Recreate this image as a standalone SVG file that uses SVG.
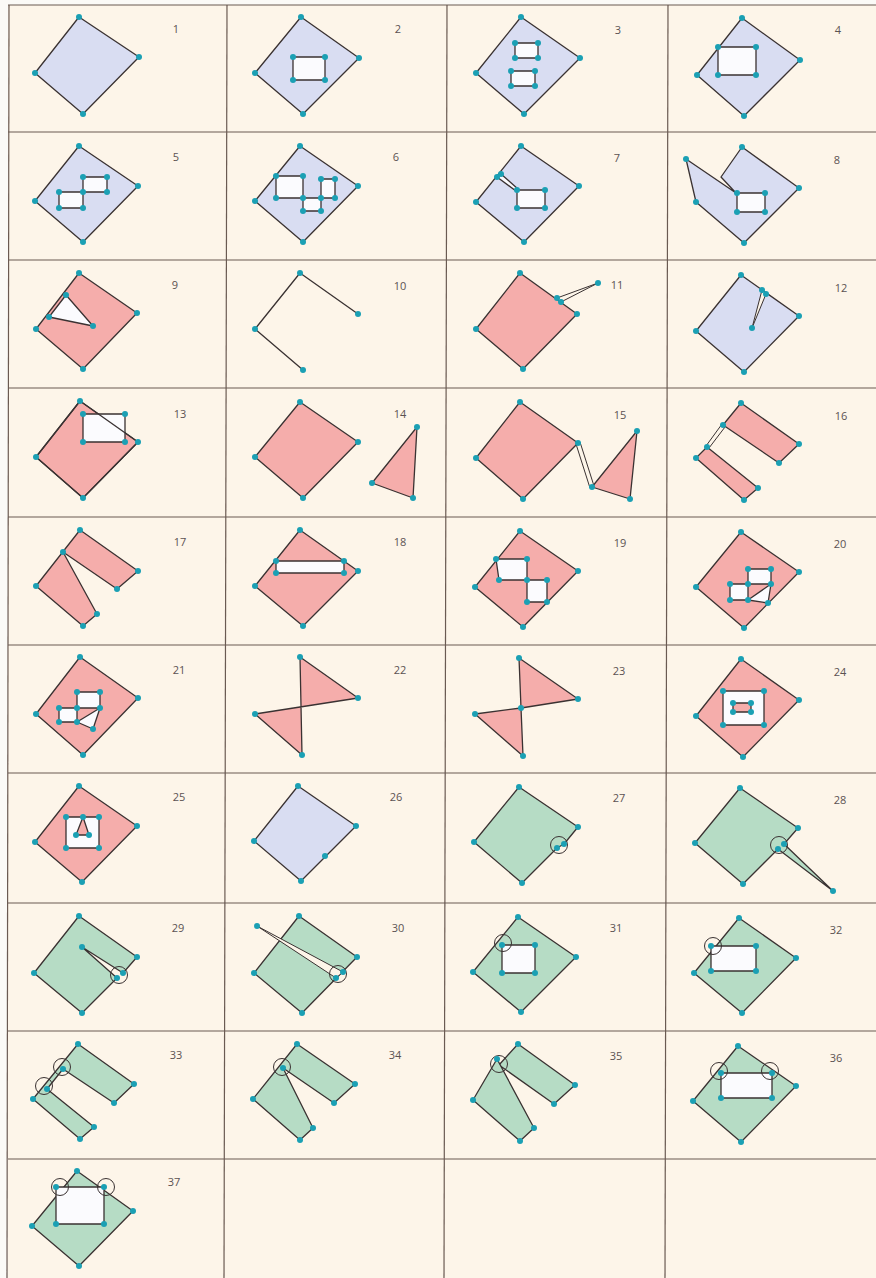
<svg xmlns="http://www.w3.org/2000/svg" width="876" height="1278" viewBox="0 0 876 1278">
<style>
.bg{fill:#fdf5e9}
.gr{stroke:#6a5a52;stroke-width:1.2;fill:none}
.b,.p,.g,.h,.s,.pk{stroke:#3a3232;stroke-width:1.3;stroke-linejoin:round}
.b{fill:#d9ddf2}
.p{fill:#f5adab}
.g{fill:#b6dcc5}
.h{fill:#fbfbfe}
.s{fill:#fdf5e9;stroke-width:1}
.ln{fill:none;stroke:#3a3232;stroke-width:1.3;stroke-linejoin:round}
.d{fill:#1ba0b4}
.c{fill:none;stroke:#3a3232;stroke-width:1}
.lb{font-family:"Open Sans","Liberation Sans",sans-serif;font-size:11px;fill:#5b5252;text-anchor:middle}
</style>
<rect x="0" y="0" width="876" height="1278" fill="#fbfaf7"/>
<rect class="bg" x="8" y="5" width="868" height="1273"/>
<g id="grid">
<line class="gr" x1="8" y1="5" x2="876" y2="5"/>
<line class="gr" x1="8" y1="132" x2="876" y2="132"/>
<line class="gr" x1="8" y1="260" x2="876" y2="260"/>
<line class="gr" x1="8" y1="388" x2="876" y2="388"/>
<line class="gr" x1="8" y1="517" x2="876" y2="517"/>
<line class="gr" x1="8" y1="645" x2="876" y2="645"/>
<line class="gr" x1="8" y1="773" x2="876" y2="773"/>
<line class="gr" x1="8" y1="903" x2="876" y2="903"/>
<line class="gr" x1="8" y1="1031" x2="876" y2="1031"/>
<line class="gr" x1="8" y1="1159" x2="876" y2="1159"/>
<line class="gr" x1="9" y1="5" x2="7" y2="1278"/>
<line class="gr" x1="227" y1="5" x2="224" y2="1278"/>
<line class="gr" x1="447" y1="5" x2="444" y2="1278"/>
<line class="gr" x1="668" y1="5" x2="665" y2="1278"/>
</g>
<g id="labels">
<text class="lb" x="176" y="33">1</text><text class="lb" x="398" y="33">2</text><text class="lb" x="618" y="34">3</text><text class="lb" x="838" y="34">4</text>
<text class="lb" x="176" y="161">5</text><text class="lb" x="396" y="161">6</text><text class="lb" x="617" y="162">7</text><text class="lb" x="837" y="164">8</text>
<text class="lb" x="175" y="289">9</text><text class="lb" x="400" y="290">10</text><text class="lb" x="617" y="289">11</text><text class="lb" x="841" y="292">12</text>
<text class="lb" x="180" y="418">13</text><text class="lb" x="400" y="418">14</text><text class="lb" x="620" y="419">15</text><text class="lb" x="841" y="420">16</text>
<text class="lb" x="180" y="546">17</text><text class="lb" x="400" y="546">18</text><text class="lb" x="620" y="547">19</text><text class="lb" x="840" y="548">20</text>
<text class="lb" x="179" y="674">21</text><text class="lb" x="400" y="674">22</text><text class="lb" x="619" y="675">23</text><text class="lb" x="840" y="676">24</text>
<text class="lb" x="179" y="801">25</text><text class="lb" x="396" y="801">26</text><text class="lb" x="619" y="802">27</text><text class="lb" x="840" y="804">28</text>
<text class="lb" x="178" y="932">29</text><text class="lb" x="398" y="932">30</text><text class="lb" x="616" y="932">31</text><text class="lb" x="836" y="934">32</text>
<text class="lb" x="176" y="1059">33</text><text class="lb" x="395" y="1059">34</text><text class="lb" x="616" y="1060">35</text><text class="lb" x="836" y="1062">36</text>
<text class="lb" x="174" y="1186">37</text>
</g>
<g id="connectors"></g>
<g id="cell1">
<polygon class="b" points="79,17 139,57 83,114 35,73"/>
<circle class="d" cx="79" cy="17" r="3"/><circle class="d" cx="139" cy="57" r="3"/><circle class="d" cx="83" cy="114" r="3"/><circle class="d" cx="35" cy="73" r="3"/>
</g>
<g id="cell2">
<polygon class="b" points="301,17 359,58 303,114 255,73"/>
<polygon class="h" points="293,57 325,57 325,80 293,80"/>
<circle class="d" cx="301" cy="17" r="3"/><circle class="d" cx="359" cy="58" r="3"/><circle class="d" cx="303" cy="114" r="3"/><circle class="d" cx="255" cy="73" r="3"/>
<circle class="d" cx="293" cy="57" r="3"/><circle class="d" cx="325" cy="57" r="3"/><circle class="d" cx="325" cy="80" r="3"/><circle class="d" cx="293" cy="80" r="3"/>
</g>
<g id="cell3">
<polygon class="b" points="521,17 580,58 524,114 476,73"/>
<polygon class="h" points="515,43 538,43 538,58 515,58"/>
<polygon class="h" points="511,71 535,71 535,86 511,86"/>
<circle class="d" cx="521" cy="17" r="3"/><circle class="d" cx="580" cy="58" r="3"/><circle class="d" cx="524" cy="114" r="3"/><circle class="d" cx="476" cy="73" r="3"/>
<circle class="d" cx="515" cy="43" r="3"/><circle class="d" cx="538" cy="43" r="3"/><circle class="d" cx="538" cy="58" r="3"/><circle class="d" cx="515" cy="58" r="3"/>
<circle class="d" cx="511" cy="71" r="3"/><circle class="d" cx="535" cy="71" r="3"/><circle class="d" cx="535" cy="86" r="3"/><circle class="d" cx="511" cy="86" r="3"/>
</g>
<g id="cell4">
<polygon class="b" points="742,18 800,60 744,116 697,75"/>
<polygon class="h" points="718,47 756,47 756,75 718,75"/>
<circle class="d" cx="742" cy="18" r="3"/><circle class="d" cx="800" cy="60" r="3"/><circle class="d" cx="744" cy="116" r="3"/><circle class="d" cx="697" cy="75" r="3"/>
<circle class="d" cx="718" cy="47" r="3"/><circle class="d" cx="756" cy="47" r="3"/><circle class="d" cx="756" cy="75" r="3"/><circle class="d" cx="718" cy="75" r="3"/>
</g>
<g id="cell5">
<polygon class="b" points="79,146 138,186 83,242 35,201"/>
<polygon class="h" points="83,177 107,177 107,192 83,192"/>
<polygon class="h" points="59,192 83,192 83,208 59,208"/>
<circle class="d" cx="79" cy="146" r="3"/><circle class="d" cx="138" cy="186" r="3"/><circle class="d" cx="83" cy="242" r="3"/><circle class="d" cx="35" cy="201" r="3"/>
<circle class="d" cx="83" cy="177" r="3"/><circle class="d" cx="107" cy="177" r="3"/><circle class="d" cx="107" cy="192" r="3"/><circle class="d" cx="83" cy="192" r="3"/>
<circle class="d" cx="59" cy="192" r="3"/><circle class="d" cx="59" cy="208" r="3"/><circle class="d" cx="83" cy="208" r="3"/>
</g>
<g id="cell6">
<polygon class="b" points="300,146 358,186 303,242 255,201"/>
<polygon class="h" points="276,176 303,176 303,198 276,198"/>
<polygon class="h" points="321,179 335,179 335,198 321,198"/>
<polygon class="h" points="303,198 321,198 321,211 303,211"/>
<circle class="d" cx="300" cy="146" r="3"/><circle class="d" cx="358" cy="186" r="3"/><circle class="d" cx="303" cy="242" r="3"/><circle class="d" cx="255" cy="201" r="3"/>
<circle class="d" cx="276" cy="176" r="3"/><circle class="d" cx="303" cy="176" r="3"/><circle class="d" cx="276" cy="198" r="3"/><circle class="d" cx="303" cy="198" r="3"/>
<circle class="d" cx="321" cy="179" r="3"/><circle class="d" cx="335" cy="179" r="3"/><circle class="d" cx="321" cy="198" r="3"/><circle class="d" cx="335" cy="198" r="3"/>
<circle class="d" cx="303" cy="211" r="3"/><circle class="d" cx="321" cy="211" r="3"/>
</g>
<g id="cell7">
<polygon class="b" points="521,146 579,186 524,242 476,202"/>
<polygon class="h" points="517,190 545,190 545,208 517,208"/>
<polygon class="h" points="497,177 501,174 518,189 516,191"/>
<circle class="d" cx="521" cy="146" r="3"/><circle class="d" cx="579" cy="186" r="3"/><circle class="d" cx="524" cy="242" r="3"/><circle class="d" cx="476" cy="202" r="3"/>
<circle class="d" cx="517" cy="190" r="3"/><circle class="d" cx="545" cy="190" r="3"/><circle class="d" cx="545" cy="208" r="3"/><circle class="d" cx="517" cy="208" r="3"/>
<circle class="d" cx="497" cy="177" r="3"/><circle class="d" cx="501" cy="174" r="3"/>
</g>
<g id="cell8">
<polygon class="b" points="742,147 799,188 744,243 696,202 686,159 736,193 721,177"/>
<polygon class="h" points="737,193 765,193 765,212 737,212"/>
<circle class="d" cx="742" cy="147" r="3"/><circle class="d" cx="799" cy="188" r="3"/><circle class="d" cx="744" cy="243" r="3"/><circle class="d" cx="696" cy="202" r="3"/><circle class="d" cx="686" cy="159" r="3"/>
<circle class="d" cx="737" cy="193" r="3"/><circle class="d" cx="765" cy="193" r="3"/><circle class="d" cx="765" cy="212" r="3"/><circle class="d" cx="737" cy="212" r="3"/>
</g>
<g id="cell9">
<polygon class="p" points="79,273 137,313 83,369 36,329"/>
<polygon class="h" points="66,295 49,317 93,326"/>
<circle class="d" cx="79" cy="273" r="3"/><circle class="d" cx="137" cy="313" r="3"/><circle class="d" cx="83" cy="369" r="3"/><circle class="d" cx="36" cy="329" r="3"/>
<circle class="d" cx="66" cy="295" r="3"/><circle class="d" cx="49" cy="317" r="3"/><circle class="d" cx="93" cy="326" r="3"/>
</g>
<g id="cell10">
<polyline class="ln" points="358,314 300,273 255,329 303,370"/>
<circle class="d" cx="358" cy="314" r="3"/><circle class="d" cx="300" cy="273" r="3"/><circle class="d" cx="255" cy="329" r="3"/><circle class="d" cx="303" cy="370" r="3"/>
</g>
<g id="cell11">
<polygon class="p" points="520,273 577,314 523,369 476,329"/>
<polygon class="s" points="557,298 598,283 561,302"/>
<circle class="d" cx="520" cy="273" r="3"/><circle class="d" cx="577" cy="314" r="3"/><circle class="d" cx="523" cy="369" r="3"/><circle class="d" cx="476" cy="329" r="3"/>
<circle class="d" cx="557" cy="298" r="3"/><circle class="d" cx="561" cy="302" r="3"/><circle class="d" cx="598" cy="283" r="3"/>
</g>
<g id="cell12">
<polygon class="b" points="741,275 799,316 744,372 696,331"/>
<polygon class="s" points="762,290 752,328 766,294"/>
<circle class="d" cx="741" cy="275" r="3"/><circle class="d" cx="799" cy="316" r="3"/><circle class="d" cx="744" cy="372" r="3"/><circle class="d" cx="696" cy="331" r="3"/>
<circle class="d" cx="762" cy="290" r="3"/><circle class="d" cx="766" cy="294" r="3"/><circle class="d" cx="752" cy="328" r="3"/>
</g>
<g id="cell13">
<polygon class="p" points="80,401 138,442 83,498 36,457"/>
<polygon class="h" points="83,414 125,414 125,442 83,442"/>
<polygon class="ln" points="80,401 138,442 83,498 36,457"/>
<circle class="d" cx="80" cy="401" r="3"/><circle class="d" cx="138" cy="442" r="3"/><circle class="d" cx="83" cy="498" r="3"/><circle class="d" cx="36" cy="457" r="3"/>
<circle class="d" cx="83" cy="414" r="3"/><circle class="d" cx="125" cy="414" r="3"/><circle class="d" cx="125" cy="442" r="3"/><circle class="d" cx="83" cy="442" r="3"/>
</g>
<g id="cell14">
<polygon class="p" points="300,402 358,442 303,498 255,457"/>
<polygon class="p" points="417,427 372,483 413,498"/>
<circle class="d" cx="300" cy="402" r="3"/><circle class="d" cx="358" cy="442" r="3"/><circle class="d" cx="303" cy="498" r="3"/><circle class="d" cx="255" cy="457" r="3"/>
<circle class="d" cx="417" cy="427" r="3"/><circle class="d" cx="372" cy="483" r="3"/><circle class="d" cx="413" cy="498" r="3"/>
</g>
<g id="cell15">
<polygon class="p" points="520,402 578,443 523,499 476,458"/>
<polygon class="p" points="637,431 592,487 630,499"/>
<polygon class="s" points="576,444 580,442 594,486 590,488"/>
<circle class="d" cx="520" cy="402" r="3"/><circle class="d" cx="578" cy="443" r="3"/><circle class="d" cx="523" cy="499" r="3"/><circle class="d" cx="476" cy="458" r="3"/>
<circle class="d" cx="637" cy="431" r="3"/><circle class="d" cx="592" cy="487" r="3"/><circle class="d" cx="630" cy="499" r="3"/>
</g>
<g id="cell16">
<polygon class="p" points="741,403 799,444 779,463 723,425"/>
<polygon class="p" points="707,447 758,488 744,500 696,458"/>
<polygon class="s" points="722,424 725,427 709,448 706,446"/>
<circle class="d" cx="741" cy="403" r="3"/><circle class="d" cx="799" cy="444" r="3"/><circle class="d" cx="779" cy="463" r="3"/><circle class="d" cx="723" cy="425" r="3"/>
<circle class="d" cx="707" cy="447" r="3"/><circle class="d" cx="758" cy="488" r="3"/><circle class="d" cx="744" cy="500" r="3"/><circle class="d" cx="696" cy="458" r="3"/>
</g>
<g id="cell17">
<polygon class="p" points="80,530 138,571 117,589 63,552 97,614 83,626 36,586"/>
<circle class="d" cx="80" cy="530" r="3"/><circle class="d" cx="138" cy="571" r="3"/><circle class="d" cx="117" cy="589" r="3"/><circle class="d" cx="63" cy="552" r="3"/>
<circle class="d" cx="97" cy="614" r="3"/><circle class="d" cx="83" cy="626" r="3"/><circle class="d" cx="36" cy="586" r="3"/>
</g>
<g id="cell18">
<polygon class="p" points="300,530 358,571 303,626 255,586"/>
<polygon class="h" points="276,561 344,561 344,573 276,573"/>
<circle class="d" cx="300" cy="530" r="3"/><circle class="d" cx="358" cy="571" r="3"/><circle class="d" cx="303" cy="626" r="3"/><circle class="d" cx="255" cy="586" r="3"/>
<circle class="d" cx="276" cy="561" r="3"/><circle class="d" cx="344" cy="561" r="3"/><circle class="d" cx="344" cy="573" r="3"/><circle class="d" cx="276" cy="573" r="3"/>
</g>
<g id="cell19">
<polygon class="p" points="520,531 578,571 523,627 475,587"/>
<polygon class="h" points="496,559 527,559 527,580 499,580"/>
<polygon class="h" points="527,580 547,580 547,602 527,602"/>
<circle class="d" cx="520" cy="531" r="3"/><circle class="d" cx="578" cy="571" r="3"/><circle class="d" cx="523" cy="627" r="3"/><circle class="d" cx="475" cy="587" r="3"/>
<circle class="d" cx="496" cy="559" r="3"/><circle class="d" cx="527" cy="559" r="3"/><circle class="d" cx="499" cy="580" r="3"/><circle class="d" cx="527" cy="580" r="3"/>
<circle class="d" cx="547" cy="580" r="3"/><circle class="d" cx="527" cy="602" r="3"/><circle class="d" cx="547" cy="602" r="3"/>
</g>
<g id="cell20">
<polygon class="p" points="741,532 799,572 744,628 696,587"/>
<polygon class="h" points="748,569 771,569 771,584 748,584"/>
<polygon class="h" points="730,584 748,584 748,600 730,600"/>
<polygon class="h" points="748,600 771,584 768,603"/>
<circle class="d" cx="741" cy="532" r="3"/><circle class="d" cx="799" cy="572" r="3"/><circle class="d" cx="744" cy="628" r="3"/><circle class="d" cx="696" cy="587" r="3"/>
<circle class="d" cx="748" cy="569" r="3"/><circle class="d" cx="771" cy="569" r="3"/><circle class="d" cx="730" cy="584" r="3"/><circle class="d" cx="748" cy="584" r="3"/>
<circle class="d" cx="771" cy="584" r="3"/><circle class="d" cx="730" cy="600" r="3"/><circle class="d" cx="748" cy="600" r="3"/><circle class="d" cx="768" cy="603" r="3"/>
</g>
<g id="cell21">
<polygon class="p" points="80,657 138,698 83,755 36,714"/>
<polygon class="h" points="77,692 100,692 100,708 77,708"/>
<polygon class="h" points="59,708 77,708 77,722 59,722"/>
<polygon class="h" points="77,722 100,708 93,729"/>
<circle class="d" cx="80" cy="657" r="3"/><circle class="d" cx="138" cy="698" r="3"/><circle class="d" cx="83" cy="755" r="3"/><circle class="d" cx="36" cy="714" r="3"/>
<circle class="d" cx="77" cy="692" r="3"/><circle class="d" cx="100" cy="692" r="3"/><circle class="d" cx="59" cy="708" r="3"/><circle class="d" cx="77" cy="708" r="3"/>
<circle class="d" cx="100" cy="708" r="3"/><circle class="d" cx="59" cy="722" r="3"/><circle class="d" cx="77" cy="722" r="3"/><circle class="d" cx="93" cy="729" r="3"/>
</g>
<g id="cell22">
<polygon class="p" points="300,657 358,698 255,714 302,755"/>
<circle class="d" cx="300" cy="657" r="3"/><circle class="d" cx="358" cy="698" r="3"/><circle class="d" cx="255" cy="714" r="3"/><circle class="d" cx="302" cy="755" r="3"/>
</g>
<g id="cell23">
<polygon class="p" points="519,658 578,699 521,708"/>
<polygon class="p" points="475,714 521,708 523,756"/>
<circle class="d" cx="519" cy="658" r="3"/><circle class="d" cx="578" cy="699" r="3"/><circle class="d" cx="521" cy="708" r="3"/><circle class="d" cx="475" cy="714" r="3"/><circle class="d" cx="523" cy="756" r="3"/>
</g>
<g id="cell24">
<polygon class="p" points="741,659 799,700 743,757 696,716"/>
<polygon class="h" points="723,691 764,691 764,725 723,725"/>
<polygon class="p" points="733,703 751,703 751,712 733,712"/>
<circle class="d" cx="741" cy="659" r="3"/><circle class="d" cx="799" cy="700" r="3"/><circle class="d" cx="743" cy="757" r="3"/><circle class="d" cx="696" cy="716" r="3"/>
<circle class="d" cx="723" cy="691" r="3"/><circle class="d" cx="764" cy="691" r="3"/><circle class="d" cx="764" cy="725" r="3"/><circle class="d" cx="723" cy="725" r="3"/>
<circle class="d" cx="733" cy="703" r="3"/><circle class="d" cx="751" cy="703" r="3"/><circle class="d" cx="751" cy="712" r="3"/><circle class="d" cx="733" cy="712" r="3"/>
</g>
<g id="cell25">
<polygon class="p" points="79,786 137,826 82,882 35,842"/>
<polygon class="h" points="66,817 99,817 99,848 66,848"/>
<polygon class="p" points="83,817 76,835 89,835"/>
<circle class="d" cx="79" cy="786" r="3"/><circle class="d" cx="137" cy="826" r="3"/><circle class="d" cx="82" cy="882" r="3"/><circle class="d" cx="35" cy="842" r="3"/>
<circle class="d" cx="66" cy="817" r="3"/><circle class="d" cx="99" cy="817" r="3"/><circle class="d" cx="99" cy="848" r="3"/><circle class="d" cx="66" cy="848" r="3"/>
<circle class="d" cx="83" cy="817" r="3"/><circle class="d" cx="76" cy="835" r="3"/><circle class="d" cx="89" cy="835" r="3"/>
</g>
<g id="cell26">
<polygon class="b" points="298,786 356,826 301,881 254,841"/>
<circle class="d" cx="298" cy="786" r="3"/><circle class="d" cx="356" cy="826" r="3"/><circle class="d" cx="301" cy="881" r="3"/><circle class="d" cx="254" cy="841" r="3"/><circle class="d" cx="325" cy="856" r="3"/>
</g>
<g id="cell27">
<polygon class="g" points="519,787 578,827 564,844 557,848 522,883 474,842"/>
<circle class="c" cx="559" cy="845" r="8.5"/>
<circle class="d" cx="519" cy="787" r="3"/><circle class="d" cx="578" cy="827" r="3"/><circle class="d" cx="522" cy="883" r="3"/><circle class="d" cx="474" cy="842" r="3"/>
<circle class="d" cx="564" cy="844" r="3"/><circle class="d" cx="557" cy="848" r="3"/>
</g>
<g id="cell28">
<polygon class="g" points="740,788 798,828 784,844 833,891 778,849 743,884 695,843"/>
<circle class="c" cx="779" cy="845" r="8.5"/>
<circle class="d" cx="740" cy="788" r="3"/><circle class="d" cx="798" cy="828" r="3"/><circle class="d" cx="743" cy="884" r="3"/><circle class="d" cx="695" cy="843" r="3"/>
<circle class="d" cx="784" cy="844" r="3"/><circle class="d" cx="778" cy="849" r="3"/><circle class="d" cx="833" cy="891" r="3"/>
</g>
<g id="cell29">
<polygon class="g" points="79,916 137,957 123,973 82,947 117,978 82,1013 34,973"/>
<circle class="c" cx="119" cy="975" r="8.5"/>
<circle class="d" cx="79" cy="916" r="3"/><circle class="d" cx="137" cy="957" r="3"/><circle class="d" cx="82" cy="1013" r="3"/><circle class="d" cx="34" cy="973" r="3"/>
<circle class="d" cx="123" cy="973" r="3"/><circle class="d" cx="117" cy="978" r="3"/><circle class="d" cx="82" cy="947" r="3"/>
</g>
<g id="cell30">
<polygon class="g" points="299,916 357,957 302,1013 254,973"/>
<polygon class="s" points="343,972 257,926 336,978"/>
<circle class="c" cx="338" cy="974" r="8.5"/>
<circle class="d" cx="299" cy="916" r="3"/><circle class="d" cx="357" cy="957" r="3"/><circle class="d" cx="302" cy="1013" r="3"/><circle class="d" cx="254" cy="973" r="3"/>
<circle class="d" cx="343" cy="972" r="3"/><circle class="d" cx="336" cy="978" r="3"/><circle class="d" cx="257" cy="926" r="3"/>
</g>
<g id="cell31">
<polygon class="g" points="518,917 576,957 521,1012 473,972"/>
<polygon class="h" points="502,945 535,945 535,973 502,973"/>
<circle class="c" cx="503" cy="943" r="8.5"/>
<circle class="d" cx="518" cy="917" r="3"/><circle class="d" cx="576" cy="957" r="3"/><circle class="d" cx="521" cy="1012" r="3"/><circle class="d" cx="473" cy="972" r="3"/>
<circle class="d" cx="502" cy="945" r="3"/><circle class="d" cx="535" cy="945" r="3"/><circle class="d" cx="535" cy="973" r="3"/><circle class="d" cx="502" cy="973" r="3"/>
</g>
<g id="cell32">
<polygon class="g" points="739,918 796,958 742,1013 694,973"/>
<polygon class="h" points="711,946 756,946 756,971 711,971"/>
<circle class="c" cx="713" cy="946" r="8.5"/>
<circle class="d" cx="739" cy="918" r="3"/><circle class="d" cx="796" cy="958" r="3"/><circle class="d" cx="742" cy="1013" r="3"/><circle class="d" cx="694" cy="973" r="3"/>
<circle class="d" cx="711" cy="946" r="3"/><circle class="d" cx="756" cy="946" r="3"/><circle class="d" cx="756" cy="971" r="3"/><circle class="d" cx="711" cy="971" r="3"/>
</g>
<g id="cell33">
<polygon class="g" points="78,1044 134,1084 114,1103 63,1069 47,1089 94,1127 80,1139 33,1099"/>
<circle class="c" cx="62" cy="1067" r="8.5"/><circle class="c" cx="44" cy="1086" r="8.5"/>
<circle class="d" cx="78" cy="1044" r="3"/><circle class="d" cx="134" cy="1084" r="3"/><circle class="d" cx="114" cy="1103" r="3"/><circle class="d" cx="63" cy="1069" r="3"/>
<circle class="d" cx="47" cy="1089" r="3"/><circle class="d" cx="94" cy="1127" r="3"/><circle class="d" cx="80" cy="1139" r="3"/><circle class="d" cx="33" cy="1099" r="3"/>
</g>
<g id="cell34">
<polygon class="g" points="297,1044 355,1084 334,1103 283,1068 313,1128 300,1140 253,1099"/>
<circle class="c" cx="282" cy="1067" r="8.5"/>
<circle class="d" cx="297" cy="1044" r="3"/><circle class="d" cx="355" cy="1084" r="3"/><circle class="d" cx="334" cy="1103" r="3"/><circle class="d" cx="283" cy="1068" r="3"/>
<circle class="d" cx="313" cy="1128" r="3"/><circle class="d" cx="300" cy="1140" r="3"/><circle class="d" cx="253" cy="1099" r="3"/>
</g>
<g id="cell35">
<polygon class="g" points="518,1044 575,1085 554,1104 499,1065"/>
<polygon class="g" points="497,1059 534,1128 520,1141 473,1100"/>
<circle class="c" cx="499" cy="1064" r="8.5"/>
<circle class="d" cx="518" cy="1044" r="3"/><circle class="d" cx="575" cy="1085" r="3"/><circle class="d" cx="554" cy="1104" r="3"/><circle class="d" cx="497" cy="1059" r="3"/>
<circle class="d" cx="534" cy="1128" r="3"/><circle class="d" cx="520" cy="1141" r="3"/><circle class="d" cx="473" cy="1100" r="3"/>
</g>
<g id="cell36">
<polygon class="g" points="738,1046 796,1086 741,1142 693,1101"/>
<polygon class="h" points="721,1073 772,1073 772,1098 721,1098"/>
<circle class="c" cx="719" cy="1071" r="8.5"/><circle class="c" cx="770" cy="1071" r="8.5"/>
<circle class="d" cx="738" cy="1046" r="3"/><circle class="d" cx="796" cy="1086" r="3"/><circle class="d" cx="741" cy="1142" r="3"/><circle class="d" cx="693" cy="1101" r="3"/>
<circle class="d" cx="721" cy="1073" r="3"/><circle class="d" cx="772" cy="1073" r="3"/><circle class="d" cx="772" cy="1098" r="3"/><circle class="d" cx="721" cy="1098" r="3"/>
</g>
<g id="cell37">
<polygon class="g" points="77,1171 133,1211 79,1266 32,1226"/>
<polygon class="h" points="56,1187 104,1187 104,1224 56,1224"/>
<circle class="c" cx="60" cy="1187" r="8.5"/><circle class="c" cx="106" cy="1187" r="8.5"/>
<circle class="d" cx="77" cy="1171" r="3"/><circle class="d" cx="133" cy="1211" r="3"/><circle class="d" cx="79" cy="1266" r="3"/><circle class="d" cx="32" cy="1226" r="3"/>
<circle class="d" cx="56" cy="1187" r="3"/><circle class="d" cx="104" cy="1187" r="3"/><circle class="d" cx="104" cy="1224" r="3"/><circle class="d" cx="56" cy="1224" r="3"/>
</g>
</svg>
